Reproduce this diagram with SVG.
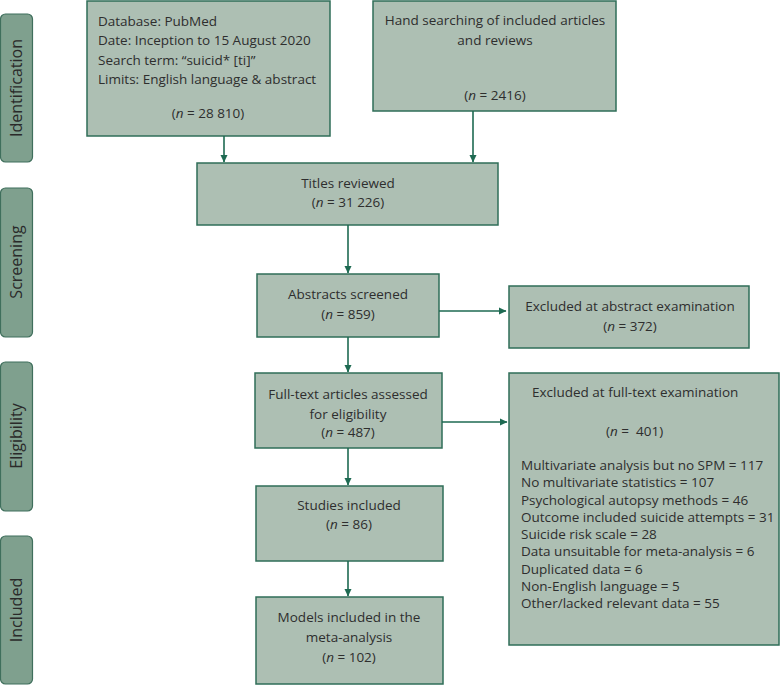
<svg xmlns="http://www.w3.org/2000/svg" width="780" height="685" viewBox="0 0 780 685">
<defs>
<style>
.box{fill:#adbfb3;stroke:#2f6e58;stroke-width:1.5}
.bar{fill:#7fa08e;stroke:#3f6f5c;stroke-width:1.2}
.t{font-family:"Open Sans",Lato,"Liberation Sans",sans-serif;font-size:13.5px;fill:#2e2e2e}
.c{text-anchor:middle}
.side{font-family:"Open Sans",Lato,"Liberation Sans",sans-serif;font-size:16px;fill:#2a2a2a;text-anchor:middle}
.ln{stroke:#1e6a52;stroke-width:1.6;fill:none;marker-end:url(#ah)}
</style>
<marker id="ah" markerWidth="8" markerHeight="8" refX="7" refY="4" orient="auto" markerUnits="userSpaceOnUse">
<path d="M0,0.5 L7.5,4 L0,7.5 Z" fill="#1e6a52"/>
</marker>
</defs>
<g id="side-identification">
<rect class="bar" x="0.5" y="14" width="32" height="148" rx="5"/>
<text class="side" transform="translate(22,88) rotate(-90)">Identification</text>
</g>
<g id="side-screening">
<rect class="bar" x="0.5" y="188" width="32" height="149" rx="5"/>
<text class="side" transform="translate(22,262) rotate(-90)">Screening</text>
</g>
<g id="side-eligibility">
<rect class="bar" x="0.5" y="362" width="32" height="149" rx="5"/>
<text class="side" transform="translate(22,436) rotate(-90)">Eligibility</text>
</g>
<g id="side-included">
<rect class="bar" x="0.5" y="536" width="32" height="148" rx="5"/>
<text class="side" transform="translate(22,610) rotate(-90)">Included</text>
</g>
<g id="database">
<rect class="box" x="87" y="1" width="243" height="135"/>
<text class="t" x="98" y="26">Database: PubMed</text>
<text class="t" x="98" y="45">Date: Inception to 15 August 2020</text>
<text class="t" x="98" y="65">Search term: “suicid* [ti]”</text>
<text class="t" x="98" y="84">Limits: English language &amp; abstract</text>
<text class="t c" x="208" y="118">(<tspan font-style="italic">n</tspan> = 28 810)</text>
</g>
<g id="hand-searching">
<rect class="box" x="373" y="1" width="243" height="110"/>
<text class="t c" x="495" y="25">Hand searching of included articles</text>
<text class="t c" x="495" y="45">and reviews</text>
<text class="t c" x="495" y="100">(<tspan font-style="italic">n</tspan> = 2416)</text>
</g>
<g id="titles">
<rect class="box" x="197" y="163" width="301" height="62"/>
<text class="t c" x="348" y="188">Titles reviewed</text>
<text class="t c" x="348" y="207">(<tspan font-style="italic">n</tspan> = 31 226)</text>
</g>
<g id="abstracts">
<rect class="box" x="257" y="274" width="182" height="63"/>
<text class="t c" x="348" y="299">Abstracts screened</text>
<text class="t c" x="348" y="319">(<tspan font-style="italic">n</tspan> = 859)</text>
</g>
<g id="excluded-abstract">
<rect class="box" x="509" y="286" width="240" height="62"/>
<text class="t c" x="630" y="311">Excluded at abstract examination</text>
<text class="t c" x="630" y="331">(<tspan font-style="italic">n</tspan> = 372)</text>
</g>
<g id="fulltext">
<rect class="box" x="255" y="373" width="187" height="75"/>
<text class="t c" x="348" y="399">Full-text articles assessed</text>
<text class="t c" x="348" y="419">for eligibility</text>
<text class="t c" x="348" y="437">(<tspan font-style="italic">n</tspan> = 487)</text>
</g>
<g id="excluded-fulltext">
<rect class="box" x="509" y="373" width="270" height="272"/>
<text class="t" x="532" y="397">Excluded at full-text examination</text>
<text class="t" x="606" y="436" xml:space="preserve">(<tspan font-style="italic">n</tspan> =  401)</text>
<text class="t" x="521" y="470">Multivariate analysis but no SPM = 117</text>
<text class="t" x="521" y="487">No multivariate statistics = 107</text>
<text class="t" x="521" y="505">Psychological autopsy methods = 46</text>
<text class="t" x="521" y="522">Outcome included suicide attempts = 31</text>
<text class="t" x="521" y="539">Suicide risk scale = 28</text>
<text class="t" x="521" y="556">Data unsuitable for meta-analysis = 6</text>
<text class="t" x="521" y="574">Duplicated data = 6</text>
<text class="t" x="521" y="591">Non-English language = 5</text>
<text class="t" x="521" y="608">Other/lacked relevant data = 55</text>
</g>
<g id="studies">
<rect class="box" x="256" y="486" width="187" height="75"/>
<text class="t c" x="349" y="510">Studies included</text>
<text class="t c" x="349" y="529">(<tspan font-style="italic">n</tspan> = 86)</text>
</g>
<g id="models">
<rect class="box" x="256" y="597" width="187" height="87"/>
<text class="t c" x="349" y="622">Models included in the</text>
<text class="t c" x="349" y="642">meta-analysis</text>
<text class="t c" x="349" y="662">(<tspan font-style="italic">n</tspan> = 102)</text>
</g>
<g id="connectors">
<line class="ln" x1="224" y1="136" x2="224" y2="162"/>
<line class="ln" x1="473" y1="111" x2="473" y2="162"/>
<line class="ln" x1="348" y1="225" x2="348" y2="273"/>
<line class="ln" x1="348" y1="337" x2="348" y2="372"/>
<line class="ln" x1="439" y1="311" x2="506" y2="311"/>
<line class="ln" x1="442" y1="422" x2="507" y2="422"/>
<line class="ln" x1="348" y1="448" x2="348" y2="485"/>
<line class="ln" x1="348" y1="561" x2="348" y2="596"/>
</g>
</svg>
